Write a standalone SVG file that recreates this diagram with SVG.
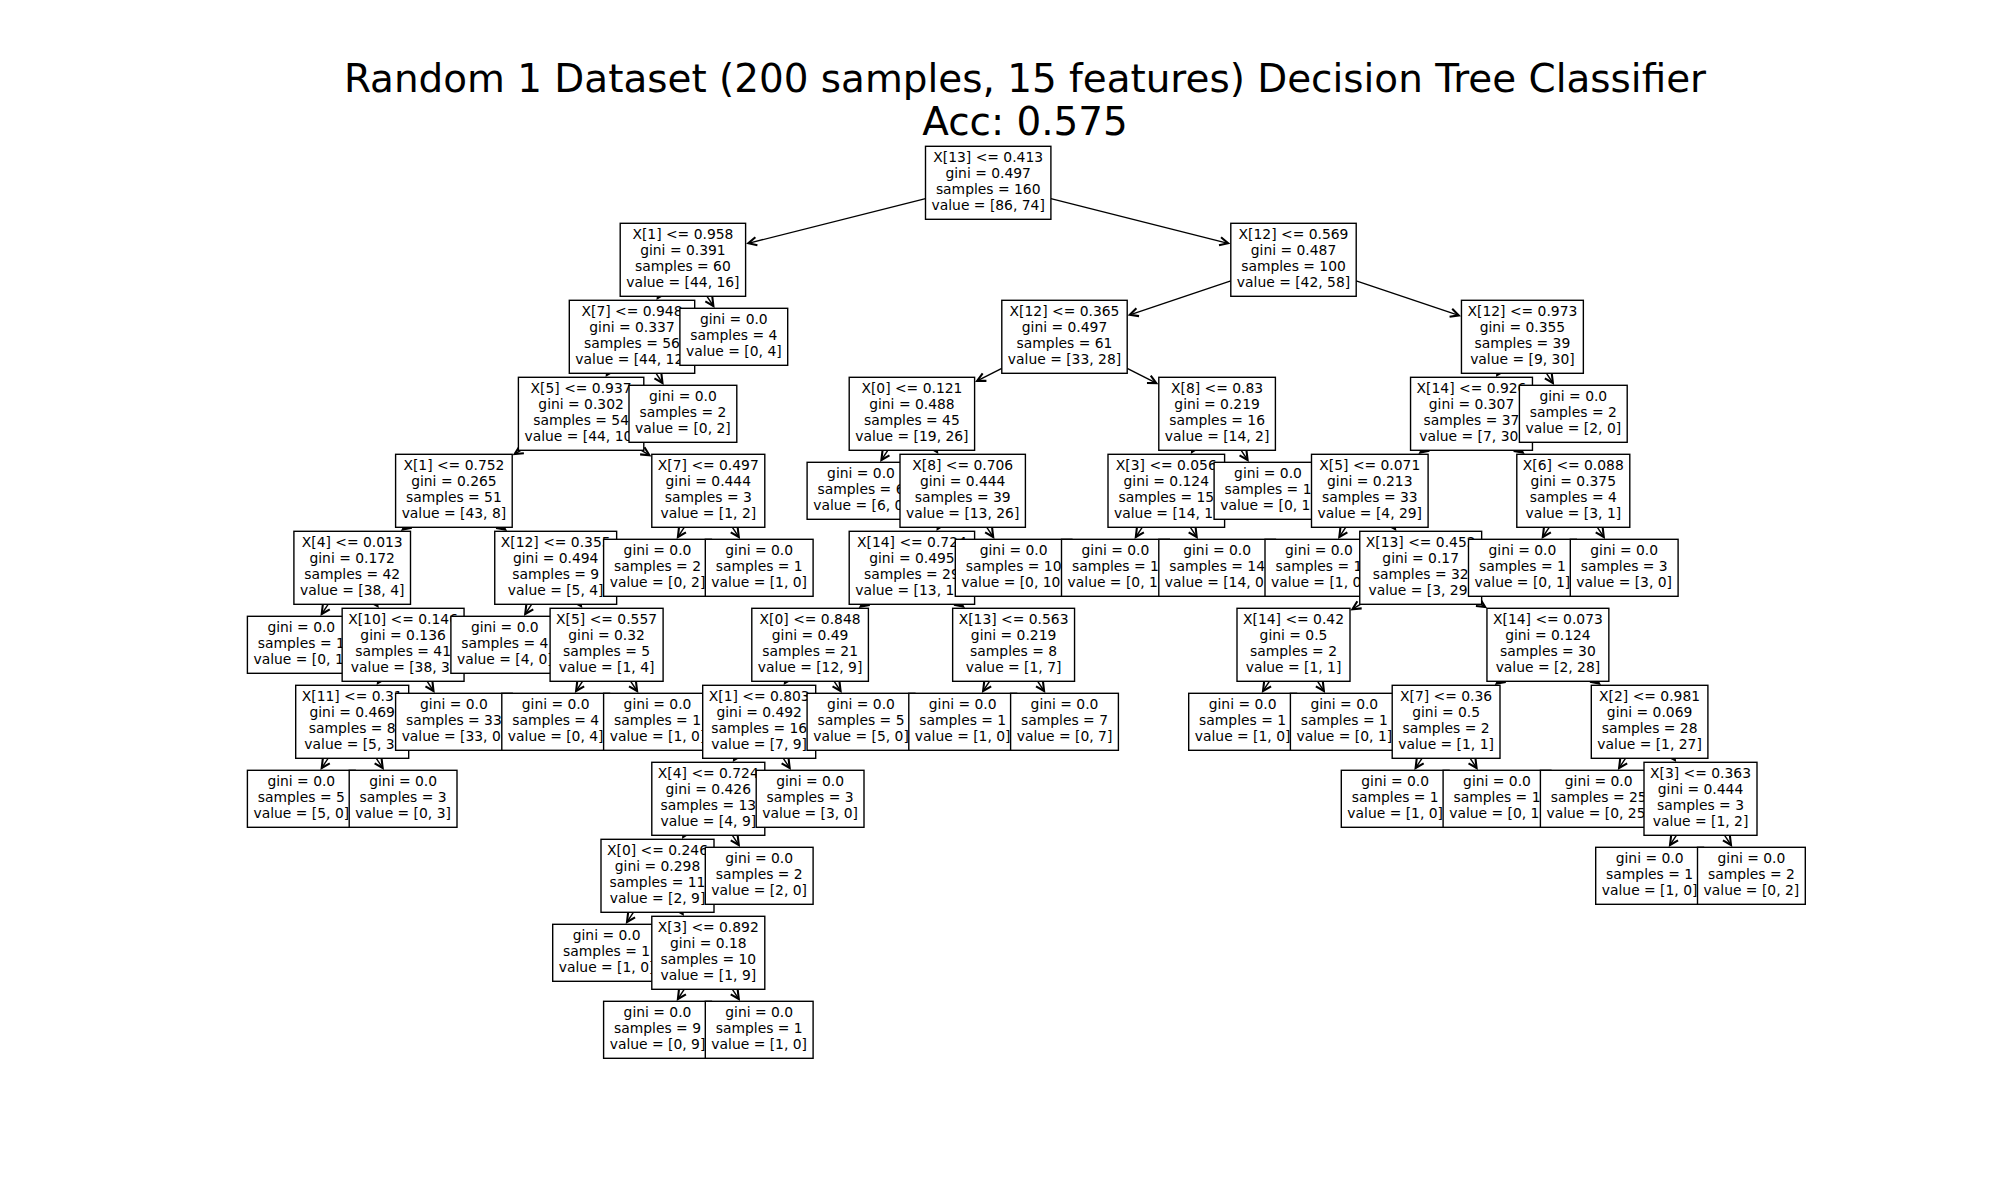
<svg xmlns="http://www.w3.org/2000/svg" width="2000" height="1200" viewBox="0 0 2000 1200">
<style>
.bg{fill:#fff}
.box{fill:#fff;stroke:#000;stroke-width:1.39}
.t{font-family:"DejaVu Sans","Liberation Sans",sans-serif;font-size:13.89px;text-anchor:middle;fill:#000}
.title{font-family:"DejaVu Sans","Liberation Sans",sans-serif;font-size:38.9px;text-anchor:middle;fill:#000}
.e{stroke:#000;stroke-width:1.39;fill:none;marker-end:url(#ah)}
</style>
<defs>
<marker id="ah" markerUnits="userSpaceOnUse" orient="auto" refX="0" refY="0" markerWidth="12" markerHeight="12" viewBox="-7 -4 8 8" overflow="visible">
<path d="M-5.56,-2.78 L0,0 L-5.56,2.78" fill="none" stroke="#000" stroke-width="1.39"/>
</marker>
</defs>
<rect class="bg" x="0" y="0" width="2000" height="1200"/>
<g id="title">
<text class="title" x="1025" y="92.3">Random 1 Dataset (200 samples, 15 features) Decision Tree Classifier</text>
<text class="title" x="1025" y="135">Acc: 0.575</text>
</g>
<g id="connectors">
<line class="e" x1="925.5" y1="198.6" x2="748.3" y2="243.3"/>
<line class="e" x1="1050.9" y1="198.6" x2="1228.1" y2="243.3"/>
<line class="e" x1="658.8" y1="296.3" x2="657.7" y2="298.0"/>
<line class="e" x1="707.0" y1="296.3" x2="713.4" y2="306.0"/>
<line class="e" x1="607.9" y1="373.3" x2="606.8" y2="375.0"/>
<line class="e" x1="656.1" y1="373.3" x2="662.5" y2="383.0"/>
<line class="e" x1="520.8" y1="450.3" x2="514.6" y2="454.1"/>
<line class="e" x1="641.4" y1="450.3" x2="649.4" y2="455.2"/>
<line class="e" x1="405.7" y1="527.3" x2="402.7" y2="529.6"/>
<line class="e" x1="502.1" y1="527.3" x2="505.2" y2="529.6"/>
<line class="e" x1="328.1" y1="604.3" x2="321.7" y2="614.0"/>
<line class="e" x1="376.3" y1="604.3" x2="377.5" y2="606.0"/>
<line class="e" x1="379.0" y1="681.3" x2="377.9" y2="683.0"/>
<line class="e" x1="427.2" y1="681.3" x2="433.5" y2="691.0"/>
<line class="e" x1="328.1" y1="758.3" x2="321.7" y2="768.0"/>
<line class="e" x1="376.3" y1="758.3" x2="382.7" y2="768.0"/>
<line class="e" x1="531.6" y1="604.3" x2="525.2" y2="614.0"/>
<line class="e" x1="579.8" y1="604.3" x2="581.0" y2="606.0"/>
<line class="e" x1="582.5" y1="681.3" x2="576.1" y2="691.0"/>
<line class="e" x1="630.7" y1="681.3" x2="637.1" y2="691.0"/>
<line class="e" x1="684.2" y1="527.3" x2="677.9" y2="537.0"/>
<line class="e" x1="732.4" y1="527.3" x2="738.8" y2="537.0"/>
<line class="e" x1="1230.8" y1="280.9" x2="1129.8" y2="314.8"/>
<line class="e" x1="1356.2" y1="280.9" x2="1458.8" y2="315.4"/>
<line class="e" x1="1001.8" y1="368.4" x2="977.1" y2="380.9"/>
<line class="e" x1="1127.2" y1="368.4" x2="1156.3" y2="383.1"/>
<line class="e" x1="887.8" y1="450.3" x2="881.4" y2="460.0"/>
<line class="e" x1="936.0" y1="450.3" x2="937.1" y2="452.0"/>
<line class="e" x1="938.6" y1="527.3" x2="937.6" y2="529.0"/>
<line class="e" x1="986.8" y1="527.3" x2="993.2" y2="537.0"/>
<line class="e" x1="863.7" y1="604.3" x2="860.6" y2="606.6"/>
<line class="e" x1="960.1" y1="604.3" x2="963.1" y2="606.6"/>
<line class="e" x1="786.0" y1="681.3" x2="784.9" y2="683.0"/>
<line class="e" x1="834.2" y1="681.3" x2="840.6" y2="691.0"/>
<line class="e" x1="735.1" y1="758.3" x2="734.0" y2="760.0"/>
<line class="e" x1="783.3" y1="758.3" x2="789.7" y2="768.0"/>
<line class="e" x1="684.2" y1="835.3" x2="683.2" y2="837.0"/>
<line class="e" x1="732.4" y1="835.3" x2="738.8" y2="845.0"/>
<line class="e" x1="633.4" y1="912.3" x2="627.0" y2="922.0"/>
<line class="e" x1="681.6" y1="912.3" x2="682.7" y2="914.0"/>
<line class="e" x1="684.2" y1="989.3" x2="677.9" y2="999.0"/>
<line class="e" x1="732.4" y1="989.3" x2="738.8" y2="999.0"/>
<line class="e" x1="989.5" y1="681.3" x2="983.1" y2="691.0"/>
<line class="e" x1="1037.7" y1="681.3" x2="1044.1" y2="691.0"/>
<line class="e" x1="1193.0" y1="450.3" x2="1192.0" y2="452.0"/>
<line class="e" x1="1241.2" y1="450.3" x2="1247.6" y2="460.0"/>
<line class="e" x1="1142.2" y1="527.3" x2="1135.8" y2="537.0"/>
<line class="e" x1="1190.4" y1="527.3" x2="1196.7" y2="537.0"/>
<line class="e" x1="1498.3" y1="373.3" x2="1497.2" y2="375.0"/>
<line class="e" x1="1546.5" y1="373.3" x2="1552.9" y2="383.0"/>
<line class="e" x1="1423.3" y1="450.3" x2="1420.3" y2="452.6"/>
<line class="e" x1="1519.7" y1="450.3" x2="1522.8" y2="452.6"/>
<line class="e" x1="1345.7" y1="527.3" x2="1339.3" y2="537.0"/>
<line class="e" x1="1393.9" y1="527.3" x2="1395.1" y2="529.0"/>
<line class="e" x1="1360.4" y1="604.3" x2="1352.4" y2="609.2"/>
<line class="e" x1="1481.0" y1="604.3" x2="1485.2" y2="606.9"/>
<line class="e" x1="1269.4" y1="681.3" x2="1263.0" y2="691.0"/>
<line class="e" x1="1317.6" y1="681.3" x2="1323.9" y2="691.0"/>
<line class="e" x1="1499.7" y1="681.3" x2="1496.6" y2="683.6"/>
<line class="e" x1="1596.1" y1="681.3" x2="1599.1" y2="683.6"/>
<line class="e" x1="1422.0" y1="758.3" x2="1415.6" y2="768.0"/>
<line class="e" x1="1470.2" y1="758.3" x2="1476.6" y2="768.0"/>
<line class="e" x1="1625.5" y1="758.3" x2="1619.1" y2="768.0"/>
<line class="e" x1="1673.7" y1="758.3" x2="1674.9" y2="760.0"/>
<line class="e" x1="1676.4" y1="835.3" x2="1670.0" y2="845.0"/>
<line class="e" x1="1724.6" y1="835.3" x2="1731.0" y2="845.0"/>
<line class="e" x1="1549.2" y1="527.3" x2="1542.8" y2="537.0"/>
<line class="e" x1="1597.4" y1="527.3" x2="1603.8" y2="537.0"/>
</g>
<g id="n0"><rect class="box" x="925.5" y="146.3" width="125.4" height="73"/><text class="t"><tspan x="988.2" y="162.0">X[13] &lt;= 0.413</tspan><tspan x="988.2" y="178.1">gini = 0.497</tspan><tspan x="988.2" y="194.2">samples = 160</tspan><tspan x="988.2" y="210.3">value = [86, 74]</tspan></text></g>
<g id="n1"><rect class="box" x="620.2" y="223.3" width="125.4" height="73"/><text class="t"><tspan x="682.9" y="239.0">X[1] &lt;= 0.958</tspan><tspan x="682.9" y="255.1">gini = 0.391</tspan><tspan x="682.9" y="271.2">samples = 60</tspan><tspan x="682.9" y="287.3">value = [44, 16]</tspan></text></g>
<g id="n2"><rect class="box" x="569.3" y="300.3" width="125.4" height="73"/><text class="t"><tspan x="632.0" y="316.0">X[7] &lt;= 0.948</tspan><tspan x="632.0" y="332.1">gini = 0.337</tspan><tspan x="632.0" y="348.2">samples = 56</tspan><tspan x="632.0" y="364.3">value = [44, 12]</tspan></text></g>
<g id="n3"><rect class="box" x="518.4" y="377.3" width="125.4" height="73"/><text class="t"><tspan x="581.1" y="393.0">X[5] &lt;= 0.937</tspan><tspan x="581.1" y="409.1">gini = 0.302</tspan><tspan x="581.1" y="425.2">samples = 54</tspan><tspan x="581.1" y="441.3">value = [44, 10]</tspan></text></g>
<g id="n4"><rect class="box" x="395.6" y="454.3" width="116.6" height="73"/><text class="t"><tspan x="453.9" y="470.0">X[1] &lt;= 0.752</tspan><tspan x="453.9" y="486.1">gini = 0.265</tspan><tspan x="453.9" y="502.2">samples = 51</tspan><tspan x="453.9" y="518.3">value = [43, 8]</tspan></text></g>
<g id="n5"><rect class="box" x="293.9" y="531.3" width="116.6" height="73"/><text class="t"><tspan x="352.2" y="547.0">X[4] &lt;= 0.013</tspan><tspan x="352.2" y="563.1">gini = 0.172</tspan><tspan x="352.2" y="579.2">samples = 42</tspan><tspan x="352.2" y="595.3">value = [38, 4]</tspan></text></g>
<g id="n6"><rect class="box" x="247.4" y="616.3" width="107.8" height="57"/><text class="t"><tspan x="301.3" y="632.1">gini = 0.0</tspan><tspan x="301.3" y="648.2">samples = 1</tspan><tspan x="301.3" y="664.3">value = [0, 1]</tspan></text></g>
<g id="n7"><rect class="box" x="342.15" y="608.3" width="121.9" height="73"/><text class="t"><tspan x="403.1" y="624.0">X[10] &lt;= 0.146</tspan><tspan x="403.1" y="640.1">gini = 0.136</tspan><tspan x="403.1" y="656.2">samples = 41</tspan><tspan x="403.1" y="672.3">value = [38, 3]</tspan></text></g>
<g id="n8"><rect class="box" x="295.7" y="685.3" width="113" height="73"/><text class="t"><tspan x="352.2" y="701.0">X[11] &lt;= 0.31</tspan><tspan x="352.2" y="717.1">gini = 0.469</tspan><tspan x="352.2" y="733.2">samples = 8</tspan><tspan x="352.2" y="749.3">value = [5, 3]</tspan></text></g>
<g id="n9"><rect class="box" x="247.4" y="770.3" width="107.8" height="57"/><text class="t"><tspan x="301.3" y="786.1">gini = 0.0</tspan><tspan x="301.3" y="802.2">samples = 5</tspan><tspan x="301.3" y="818.3">value = [5, 0]</tspan></text></g>
<g id="n10"><rect class="box" x="349.2" y="770.3" width="107.8" height="57"/><text class="t"><tspan x="403.1" y="786.1">gini = 0.0</tspan><tspan x="403.1" y="802.2">samples = 3</tspan><tspan x="403.1" y="818.3">value = [0, 3]</tspan></text></g>
<g id="n11"><rect class="box" x="395.6" y="693.3" width="116.6" height="57"/><text class="t"><tspan x="453.9" y="709.1">gini = 0.0</tspan><tspan x="453.9" y="725.2">samples = 33</tspan><tspan x="453.9" y="741.3">value = [33, 0]</tspan></text></g>
<g id="n12"><rect class="box" x="494.75" y="531.3" width="121.9" height="73"/><text class="t"><tspan x="555.7" y="547.0">X[12] &lt;= 0.355</tspan><tspan x="555.7" y="563.1">gini = 0.494</tspan><tspan x="555.7" y="579.2">samples = 9</tspan><tspan x="555.7" y="595.3">value = [5, 4]</tspan></text></g>
<g id="n13"><rect class="box" x="450.9" y="616.3" width="107.8" height="57"/><text class="t"><tspan x="504.8" y="632.1">gini = 0.0</tspan><tspan x="504.8" y="648.2">samples = 4</tspan><tspan x="504.8" y="664.3">value = [4, 0]</tspan></text></g>
<g id="n14"><rect class="box" x="550.1" y="608.3" width="113" height="73"/><text class="t"><tspan x="606.6" y="624.0">X[5] &lt;= 0.557</tspan><tspan x="606.6" y="640.1">gini = 0.32</tspan><tspan x="606.6" y="656.2">samples = 5</tspan><tspan x="606.6" y="672.3">value = [1, 4]</tspan></text></g>
<g id="n15"><rect class="box" x="501.8" y="693.3" width="107.8" height="57"/><text class="t"><tspan x="555.7" y="709.1">gini = 0.0</tspan><tspan x="555.7" y="725.2">samples = 4</tspan><tspan x="555.7" y="741.3">value = [0, 4]</tspan></text></g>
<g id="n16"><rect class="box" x="603.6" y="693.3" width="107.8" height="57"/><text class="t"><tspan x="657.5" y="709.1">gini = 0.0</tspan><tspan x="657.5" y="725.2">samples = 1</tspan><tspan x="657.5" y="741.3">value = [1, 0]</tspan></text></g>
<g id="n17"><rect class="box" x="651.8" y="454.3" width="113" height="73"/><text class="t"><tspan x="708.3" y="470.0">X[7] &lt;= 0.497</tspan><tspan x="708.3" y="486.1">gini = 0.444</tspan><tspan x="708.3" y="502.2">samples = 3</tspan><tspan x="708.3" y="518.3">value = [1, 2]</tspan></text></g>
<g id="n18"><rect class="box" x="603.6" y="539.3" width="107.8" height="57"/><text class="t"><tspan x="657.5" y="555.1">gini = 0.0</tspan><tspan x="657.5" y="571.2">samples = 2</tspan><tspan x="657.5" y="587.3">value = [0, 2]</tspan></text></g>
<g id="n19"><rect class="box" x="705.3" y="539.3" width="107.8" height="57"/><text class="t"><tspan x="759.2" y="555.1">gini = 0.0</tspan><tspan x="759.2" y="571.2">samples = 1</tspan><tspan x="759.2" y="587.3">value = [1, 0]</tspan></text></g>
<g id="n20"><rect class="box" x="629.0" y="385.3" width="107.8" height="57"/><text class="t"><tspan x="682.9" y="401.1">gini = 0.0</tspan><tspan x="682.9" y="417.2">samples = 2</tspan><tspan x="682.9" y="433.3">value = [0, 2]</tspan></text></g>
<g id="n21"><rect class="box" x="679.9" y="308.3" width="107.8" height="57"/><text class="t"><tspan x="733.8" y="324.1">gini = 0.0</tspan><tspan x="733.8" y="340.2">samples = 4</tspan><tspan x="733.8" y="356.3">value = [0, 4]</tspan></text></g>
<g id="n22"><rect class="box" x="1230.8" y="223.3" width="125.4" height="73"/><text class="t"><tspan x="1293.5" y="239.0">X[12] &lt;= 0.569</tspan><tspan x="1293.5" y="255.1">gini = 0.487</tspan><tspan x="1293.5" y="271.2">samples = 100</tspan><tspan x="1293.5" y="287.3">value = [42, 58]</tspan></text></g>
<g id="n23"><rect class="box" x="1001.8" y="300.3" width="125.4" height="73"/><text class="t"><tspan x="1064.5" y="316.0">X[12] &lt;= 0.365</tspan><tspan x="1064.5" y="332.1">gini = 0.497</tspan><tspan x="1064.5" y="348.2">samples = 61</tspan><tspan x="1064.5" y="364.3">value = [33, 28]</tspan></text></g>
<g id="n24"><rect class="box" x="849.2" y="377.3" width="125.4" height="73"/><text class="t"><tspan x="911.9" y="393.0">X[0] &lt;= 0.121</tspan><tspan x="911.9" y="409.1">gini = 0.488</tspan><tspan x="911.9" y="425.2">samples = 45</tspan><tspan x="911.9" y="441.3">value = [19, 26]</tspan></text></g>
<g id="n25"><rect class="box" x="807.1" y="462.3" width="107.8" height="57"/><text class="t"><tspan x="861.0" y="478.1">gini = 0.0</tspan><tspan x="861.0" y="494.2">samples = 6</tspan><tspan x="861.0" y="510.3">value = [6, 0]</tspan></text></g>
<g id="n26"><rect class="box" x="900.0" y="454.3" width="125.4" height="73"/><text class="t"><tspan x="962.7" y="470.0">X[8] &lt;= 0.706</tspan><tspan x="962.7" y="486.1">gini = 0.444</tspan><tspan x="962.7" y="502.2">samples = 39</tspan><tspan x="962.7" y="518.3">value = [13, 26]</tspan></text></g>
<g id="n27"><rect class="box" x="849.2" y="531.3" width="125.4" height="73"/><text class="t"><tspan x="911.9" y="547.0">X[14] &lt;= 0.724</tspan><tspan x="911.9" y="563.1">gini = 0.495</tspan><tspan x="911.9" y="579.2">samples = 29</tspan><tspan x="911.9" y="595.3">value = [13, 16]</tspan></text></g>
<g id="n28"><rect class="box" x="751.8" y="608.3" width="116.6" height="73"/><text class="t"><tspan x="810.1" y="624.0">X[0] &lt;= 0.848</tspan><tspan x="810.1" y="640.1">gini = 0.49</tspan><tspan x="810.1" y="656.2">samples = 21</tspan><tspan x="810.1" y="672.3">value = [12, 9]</tspan></text></g>
<g id="n29"><rect class="box" x="702.7" y="685.3" width="113" height="73"/><text class="t"><tspan x="759.2" y="701.0">X[1] &lt;= 0.803</tspan><tspan x="759.2" y="717.1">gini = 0.492</tspan><tspan x="759.2" y="733.2">samples = 16</tspan><tspan x="759.2" y="749.3">value = [7, 9]</tspan></text></g>
<g id="n30"><rect class="box" x="651.8" y="762.3" width="113" height="73"/><text class="t"><tspan x="708.3" y="778.0">X[4] &lt;= 0.724</tspan><tspan x="708.3" y="794.1">gini = 0.426</tspan><tspan x="708.3" y="810.2">samples = 13</tspan><tspan x="708.3" y="826.3">value = [4, 9]</tspan></text></g>
<g id="n31"><rect class="box" x="601.0" y="839.3" width="113" height="73"/><text class="t"><tspan x="657.5" y="855.0">X[0] &lt;= 0.246</tspan><tspan x="657.5" y="871.1">gini = 0.298</tspan><tspan x="657.5" y="887.2">samples = 11</tspan><tspan x="657.5" y="903.3">value = [2, 9]</tspan></text></g>
<g id="n32"><rect class="box" x="552.7" y="924.3" width="107.8" height="57"/><text class="t"><tspan x="606.6" y="940.1">gini = 0.0</tspan><tspan x="606.6" y="956.2">samples = 1</tspan><tspan x="606.6" y="972.3">value = [1, 0]</tspan></text></g>
<g id="n33"><rect class="box" x="651.8" y="916.3" width="113" height="73"/><text class="t"><tspan x="708.3" y="932.0">X[3] &lt;= 0.892</tspan><tspan x="708.3" y="948.1">gini = 0.18</tspan><tspan x="708.3" y="964.2">samples = 10</tspan><tspan x="708.3" y="980.3">value = [1, 9]</tspan></text></g>
<g id="n34"><rect class="box" x="603.6" y="1001.3" width="107.8" height="57"/><text class="t"><tspan x="657.5" y="1017.1">gini = 0.0</tspan><tspan x="657.5" y="1033.2">samples = 9</tspan><tspan x="657.5" y="1049.3">value = [0, 9]</tspan></text></g>
<g id="n35"><rect class="box" x="705.3" y="1001.3" width="107.8" height="57"/><text class="t"><tspan x="759.2" y="1017.1">gini = 0.0</tspan><tspan x="759.2" y="1033.2">samples = 1</tspan><tspan x="759.2" y="1049.3">value = [1, 0]</tspan></text></g>
<g id="n36"><rect class="box" x="705.3" y="847.3" width="107.8" height="57"/><text class="t"><tspan x="759.2" y="863.1">gini = 0.0</tspan><tspan x="759.2" y="879.2">samples = 2</tspan><tspan x="759.2" y="895.3">value = [2, 0]</tspan></text></g>
<g id="n37"><rect class="box" x="756.2" y="770.3" width="107.8" height="57"/><text class="t"><tspan x="810.1" y="786.1">gini = 0.0</tspan><tspan x="810.1" y="802.2">samples = 3</tspan><tspan x="810.1" y="818.3">value = [3, 0]</tspan></text></g>
<g id="n38"><rect class="box" x="807.1" y="693.3" width="107.8" height="57"/><text class="t"><tspan x="861.0" y="709.1">gini = 0.0</tspan><tspan x="861.0" y="725.2">samples = 5</tspan><tspan x="861.0" y="741.3">value = [5, 0]</tspan></text></g>
<g id="n39"><rect class="box" x="952.65" y="608.3" width="121.9" height="73"/><text class="t"><tspan x="1013.6" y="624.0">X[13] &lt;= 0.563</tspan><tspan x="1013.6" y="640.1">gini = 0.219</tspan><tspan x="1013.6" y="656.2">samples = 8</tspan><tspan x="1013.6" y="672.3">value = [1, 7]</tspan></text></g>
<g id="n40"><rect class="box" x="908.8" y="693.3" width="107.8" height="57"/><text class="t"><tspan x="962.7" y="709.1">gini = 0.0</tspan><tspan x="962.7" y="725.2">samples = 1</tspan><tspan x="962.7" y="741.3">value = [1, 0]</tspan></text></g>
<g id="n41"><rect class="box" x="1010.6" y="693.3" width="107.8" height="57"/><text class="t"><tspan x="1064.5" y="709.1">gini = 0.0</tspan><tspan x="1064.5" y="725.2">samples = 7</tspan><tspan x="1064.5" y="741.3">value = [0, 7]</tspan></text></g>
<g id="n42"><rect class="box" x="955.3" y="539.3" width="116.6" height="57"/><text class="t"><tspan x="1013.6" y="555.1">gini = 0.0</tspan><tspan x="1013.6" y="571.2">samples = 10</tspan><tspan x="1013.6" y="587.3">value = [0, 10]</tspan></text></g>
<g id="n43"><rect class="box" x="1158.8" y="377.3" width="116.6" height="73"/><text class="t"><tspan x="1217.1" y="393.0">X[8] &lt;= 0.83</tspan><tspan x="1217.1" y="409.1">gini = 0.219</tspan><tspan x="1217.1" y="425.2">samples = 16</tspan><tspan x="1217.1" y="441.3">value = [14, 2]</tspan></text></g>
<g id="n44"><rect class="box" x="1108.0" y="454.3" width="116.6" height="73"/><text class="t"><tspan x="1166.3" y="470.0">X[3] &lt;= 0.056</tspan><tspan x="1166.3" y="486.1">gini = 0.124</tspan><tspan x="1166.3" y="502.2">samples = 15</tspan><tspan x="1166.3" y="518.3">value = [14, 1]</tspan></text></g>
<g id="n45"><rect class="box" x="1061.5" y="539.3" width="107.8" height="57"/><text class="t"><tspan x="1115.4" y="555.1">gini = 0.0</tspan><tspan x="1115.4" y="571.2">samples = 1</tspan><tspan x="1115.4" y="587.3">value = [0, 1]</tspan></text></g>
<g id="n46"><rect class="box" x="1158.8" y="539.3" width="116.6" height="57"/><text class="t"><tspan x="1217.1" y="555.1">gini = 0.0</tspan><tspan x="1217.1" y="571.2">samples = 14</tspan><tspan x="1217.1" y="587.3">value = [14, 0]</tspan></text></g>
<g id="n47"><rect class="box" x="1214.1" y="462.3" width="107.8" height="57"/><text class="t"><tspan x="1268.0" y="478.1">gini = 0.0</tspan><tspan x="1268.0" y="494.2">samples = 1</tspan><tspan x="1268.0" y="510.3">value = [0, 1]</tspan></text></g>
<g id="n48"><rect class="box" x="1461.45" y="300.3" width="121.9" height="73"/><text class="t"><tspan x="1522.4" y="316.0">X[12] &lt;= 0.973</tspan><tspan x="1522.4" y="332.1">gini = 0.355</tspan><tspan x="1522.4" y="348.2">samples = 39</tspan><tspan x="1522.4" y="364.3">value = [9, 30]</tspan></text></g>
<g id="n49"><rect class="box" x="1410.55" y="377.3" width="121.9" height="73"/><text class="t"><tspan x="1471.5" y="393.0">X[14] &lt;= 0.926</tspan><tspan x="1471.5" y="409.1">gini = 0.307</tspan><tspan x="1471.5" y="425.2">samples = 37</tspan><tspan x="1471.5" y="441.3">value = [7, 30]</tspan></text></g>
<g id="n50"><rect class="box" x="1311.5" y="454.3" width="116.6" height="73"/><text class="t"><tspan x="1369.8" y="470.0">X[5] &lt;= 0.071</tspan><tspan x="1369.8" y="486.1">gini = 0.213</tspan><tspan x="1369.8" y="502.2">samples = 33</tspan><tspan x="1369.8" y="518.3">value = [4, 29]</tspan></text></g>
<g id="n51"><rect class="box" x="1265.0" y="539.3" width="107.8" height="57"/><text class="t"><tspan x="1318.9" y="555.1">gini = 0.0</tspan><tspan x="1318.9" y="571.2">samples = 1</tspan><tspan x="1318.9" y="587.3">value = [1, 0]</tspan></text></g>
<g id="n52"><rect class="box" x="1359.75" y="531.3" width="121.9" height="73"/><text class="t"><tspan x="1420.7" y="547.0">X[13] &lt;= 0.452</tspan><tspan x="1420.7" y="563.1">gini = 0.17</tspan><tspan x="1420.7" y="579.2">samples = 32</tspan><tspan x="1420.7" y="595.3">value = [3, 29]</tspan></text></g>
<g id="n53"><rect class="box" x="1237.0" y="608.3" width="113" height="73"/><text class="t"><tspan x="1293.5" y="624.0">X[14] &lt;= 0.42</tspan><tspan x="1293.5" y="640.1">gini = 0.5</tspan><tspan x="1293.5" y="656.2">samples = 2</tspan><tspan x="1293.5" y="672.3">value = [1, 1]</tspan></text></g>
<g id="n54"><rect class="box" x="1188.7" y="693.3" width="107.8" height="57"/><text class="t"><tspan x="1242.6" y="709.1">gini = 0.0</tspan><tspan x="1242.6" y="725.2">samples = 1</tspan><tspan x="1242.6" y="741.3">value = [1, 0]</tspan></text></g>
<g id="n55"><rect class="box" x="1290.4" y="693.3" width="107.8" height="57"/><text class="t"><tspan x="1344.3" y="709.1">gini = 0.0</tspan><tspan x="1344.3" y="725.2">samples = 1</tspan><tspan x="1344.3" y="741.3">value = [0, 1]</tspan></text></g>
<g id="n56"><rect class="box" x="1486.95" y="608.3" width="121.9" height="73"/><text class="t"><tspan x="1547.9" y="624.0">X[14] &lt;= 0.073</tspan><tspan x="1547.9" y="640.1">gini = 0.124</tspan><tspan x="1547.9" y="656.2">samples = 30</tspan><tspan x="1547.9" y="672.3">value = [2, 28]</tspan></text></g>
<g id="n57"><rect class="box" x="1392.2" y="685.3" width="107.8" height="73"/><text class="t"><tspan x="1446.1" y="701.0">X[7] &lt;= 0.36</tspan><tspan x="1446.1" y="717.1">gini = 0.5</tspan><tspan x="1446.1" y="733.2">samples = 2</tspan><tspan x="1446.1" y="749.3">value = [1, 1]</tspan></text></g>
<g id="n58"><rect class="box" x="1341.3" y="770.3" width="107.8" height="57"/><text class="t"><tspan x="1395.2" y="786.1">gini = 0.0</tspan><tspan x="1395.2" y="802.2">samples = 1</tspan><tspan x="1395.2" y="818.3">value = [1, 0]</tspan></text></g>
<g id="n59"><rect class="box" x="1443.1" y="770.3" width="107.8" height="57"/><text class="t"><tspan x="1497.0" y="786.1">gini = 0.0</tspan><tspan x="1497.0" y="802.2">samples = 1</tspan><tspan x="1497.0" y="818.3">value = [0, 1]</tspan></text></g>
<g id="n60"><rect class="box" x="1591.3" y="685.3" width="116.6" height="73"/><text class="t"><tspan x="1649.6" y="701.0">X[2] &lt;= 0.981</tspan><tspan x="1649.6" y="717.1">gini = 0.069</tspan><tspan x="1649.6" y="733.2">samples = 28</tspan><tspan x="1649.6" y="749.3">value = [1, 27]</tspan></text></g>
<g id="n61"><rect class="box" x="1540.4" y="770.3" width="116.6" height="57"/><text class="t"><tspan x="1598.7" y="786.1">gini = 0.0</tspan><tspan x="1598.7" y="802.2">samples = 25</tspan><tspan x="1598.7" y="818.3">value = [0, 25]</tspan></text></g>
<g id="n62"><rect class="box" x="1644.0" y="762.3" width="113" height="73"/><text class="t"><tspan x="1700.5" y="778.0">X[3] &lt;= 0.363</tspan><tspan x="1700.5" y="794.1">gini = 0.444</tspan><tspan x="1700.5" y="810.2">samples = 3</tspan><tspan x="1700.5" y="826.3">value = [1, 2]</tspan></text></g>
<g id="n63"><rect class="box" x="1595.7" y="847.3" width="107.8" height="57"/><text class="t"><tspan x="1649.6" y="863.1">gini = 0.0</tspan><tspan x="1649.6" y="879.2">samples = 1</tspan><tspan x="1649.6" y="895.3">value = [1, 0]</tspan></text></g>
<g id="n64"><rect class="box" x="1697.5" y="847.3" width="107.8" height="57"/><text class="t"><tspan x="1751.4" y="863.1">gini = 0.0</tspan><tspan x="1751.4" y="879.2">samples = 2</tspan><tspan x="1751.4" y="895.3">value = [0, 2]</tspan></text></g>
<g id="n65"><rect class="box" x="1516.8" y="454.3" width="113" height="73"/><text class="t"><tspan x="1573.3" y="470.0">X[6] &lt;= 0.088</tspan><tspan x="1573.3" y="486.1">gini = 0.375</tspan><tspan x="1573.3" y="502.2">samples = 4</tspan><tspan x="1573.3" y="518.3">value = [3, 1]</tspan></text></g>
<g id="n66"><rect class="box" x="1468.5" y="539.3" width="107.8" height="57"/><text class="t"><tspan x="1522.4" y="555.1">gini = 0.0</tspan><tspan x="1522.4" y="571.2">samples = 1</tspan><tspan x="1522.4" y="587.3">value = [0, 1]</tspan></text></g>
<g id="n67"><rect class="box" x="1570.3" y="539.3" width="107.8" height="57"/><text class="t"><tspan x="1624.2" y="555.1">gini = 0.0</tspan><tspan x="1624.2" y="571.2">samples = 3</tspan><tspan x="1624.2" y="587.3">value = [3, 0]</tspan></text></g>
<g id="n68"><rect class="box" x="1519.4" y="385.3" width="107.8" height="57"/><text class="t"><tspan x="1573.3" y="401.1">gini = 0.0</tspan><tspan x="1573.3" y="417.2">samples = 2</tspan><tspan x="1573.3" y="433.3">value = [2, 0]</tspan></text></g>
</svg>
